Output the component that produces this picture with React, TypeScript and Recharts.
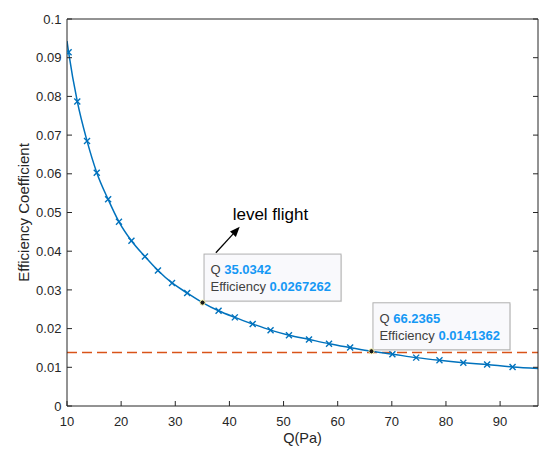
import React from 'react';
import { ComposedChart, Line, Scatter, XAxis, YAxis, ReferenceLine, ReferenceDot } from 'recharts';

// Marker points (x markers)
const markerQ = [10.3, 11.9, 13.7, 15.5, 17.6, 19.6, 21.9, 24.4, 26.8, 29.4, 32.2, 38.0, 41.0, 44.3, 47.6, 51.0, 54.7, 58.4, 62.3, 70.1, 74.5, 78.8, 83.2, 87.6, 92.3];
const markerE = [0.0914, 0.0787, 0.0685, 0.0603, 0.0534, 0.0476, 0.0427, 0.0386, 0.0350, 0.0318, 0.0292, 0.0246, 0.0229, 0.0212, 0.0196, 0.0183, 0.0172, 0.0161, 0.0151, 0.0134, 0.0125, 0.0118, 0.0112, 0.0107, 0.0101];

// Data tips
const tipQ = [35.0342, 66.2365];
const tipE = [0.0267262, 0.0141362];

// Curve end points
const startQ = 10;
const startE = 0.0943;
const endQ = 97;
const endE = 0.0097;

// Level flight threshold
const levelE = 0.0138;

const xTicks = [10, 20, 30, 40, 50, 60, 70, 80, 90];
const yTicks = [0, 0.01, 0.02, 0.03, 0.04, 0.05, 0.06, 0.07, 0.08, 0.09, 0.1];

const markers = markerQ.map((q, i) => ({ q, e: markerE[i] }));
const curve = [
  { q: startQ, e: startE },
  ...markers,
  ...tipQ.map((q, i) => ({ q, e: tipE[i] })),
  { q: endQ, e: endE },
].sort((a, b) => a.q - b.q);

const FONT = 'Liberation Sans, Arial, sans-serif';
const AXIS = '#262626';
const BLUE = '#0072BD';
const TIPBLUE = '#1598f5';

const XMark = (props: any) => {
  const { cx, cy } = props;
  if (cx == null || cy == null) return null;
  const s = 3;
  return (
    <g stroke={BLUE} strokeWidth={1.4}>
      <line x1={cx - s} y1={cy - s} x2={cx + s} y2={cy + s} />
      <line x1={cx - s} y1={cy + s} x2={cx + s} y2={cy - s} />
    </g>
  );
};

const makeTip = (q: number, e: number) => (props: any) => {
  const { cx, cy } = props;
  if (cx == null || cy == null) return null;
  const bx = cx + 1.5;
  const by = cy - 48.5;
  return (
    <g>
      <rect x={bx + 1} y={by + 1} width={137} height={47} fill="#d8d8d8" opacity={0.6} />
      <rect x={bx} y={by} width={137} height={47} fill="#f9f9fc" stroke="#b0b0b0" strokeWidth={1} />
      <text x={bx + 6.5} y={by + 20} fontFamily={FONT} fontSize={13} fill="#404040">
        Q <tspan fill={TIPBLUE} fontWeight="bold">{q.toFixed(4)}</tspan>
      </text>
      <text x={bx + 6.5} y={by + 37} fontFamily={FONT} fontSize={13} fill="#404040">
        Efficiency <tspan fill={TIPBLUE} fontWeight="bold">{String(e)}</tspan>
      </text>
      <circle cx={cx} cy={cy} r={2.6} fill="#1a1a1a" stroke="#fffbb0" strokeWidth={1} />
    </g>
  );
};

const Arrow = (props: any) => {
  const { x1, y1, x2, y2 } = props;
  if (x1 == null) return null;
  const ang = Math.atan2(y2 - y1, x2 - x1);
  const L = 10;
  const W = 4;
  const bx = x2 - L * Math.cos(ang);
  const by = y2 - L * Math.sin(ang);
  const px = -Math.sin(ang) * W;
  const py = Math.cos(ang) * W;
  return (
    <g>
      <line x1={x1} y1={y1} x2={bx} y2={by} stroke="#000" strokeWidth={1.3} />
      <polygon points={`${x2},${y2} ${bx + px},${by + py} ${bx - px},${by - py}`} fill="#000" />
    </g>
  );
};

const LevelText = (props: any) => {
  const { cx, cy } = props;
  if (cx == null) return null;
  return (
    <text x={cx} y={cy} fontFamily={FONT} fontSize={17} fill="#000">
      level flight
    </text>
  );
};

export default function App() {
  return (
    <div style={{ position: 'absolute', left: 0, top: 0, width: 550, height: 461, background: '#fff' }}>
      <ComposedChart
        width={550}
        height={461}
        margin={{ top: 18, right: 11, bottom: 0, left: 0 }}
        style={{ fontFamily: FONT }}
      >
        <XAxis
          xAxisId="b"
          dataKey="q"
          type="number"
          domain={[10, 97]}
          ticks={xTicks}
          allowDataOverflow
          height={55}
          tickSize={-5}
          tickMargin={15.5}
          stroke={AXIS}
          tick={{ fontSize: 13, fill: AXIS, fontFamily: FONT }}
          label={{
            content: (p: any) => {
              const vb = p.viewBox || {};
              return (
                <text x={vb.x + vb.width / 2} y={vb.y + 36.5} textAnchor="middle" fontFamily={FONT} fontSize={14.5} fill={AXIS}>
                  Q(Pa)
                </text>
              );
            },
          }}
        />
        <XAxis
          xAxisId="t"
          orientation="top"
          type="number"
          domain={[10, 97]}
          ticks={xTicks}
          allowDataOverflow
          height={1}
          tickSize={-5}
          stroke={AXIS}
          tickFormatter={() => ''}
        />
        <YAxis
          yAxisId="l"
          type="number"
          domain={[0, 0.1]}
          ticks={yTicks}
          allowDataOverflow
          width={67}
          tickSize={-5}
          tickMargin={10.6}
          stroke={AXIS}
          tick={{ fontSize: 13, fill: AXIS, fontFamily: FONT }}
          tickFormatter={(v: number) => String(v)}
          label={{
            content: (p: any) => {
              const vb = p.viewBox || {};
              const cx = vb.x + 23;
              const cy = vb.y + vb.height / 2;
              return (
                <text
                  x={cx}
                  y={cy}
                  transform={`rotate(-90 ${cx} ${cy})`}
                  textAnchor="middle"
                  dominantBaseline="central"
                  fontFamily={FONT}
                  fontSize={15}
                  fill={AXIS}
                >
                  Efficiency Coefficient
                </text>
              );
            },
          }}
        />
        <YAxis
          yAxisId="r"
          orientation="right"
          type="number"
          domain={[0, 0.1]}
          ticks={yTicks}
          allowDataOverflow
          width={1}
          tickSize={-5}
          stroke={AXIS}
          tickFormatter={() => ''}
        />
        <ReferenceLine
          xAxisId="b"
          yAxisId="l"
          y={levelE}
          stroke="#D95319"
          strokeWidth={1.5}
          strokeDasharray="10 5"
        />
        <Line
          xAxisId="b"
          yAxisId="l"
          data={curve}
          dataKey="e"
          type="monotone"
          stroke={BLUE}
          strokeWidth={1.5}
          dot={false}
          activeDot={false}
          isAnimationActive={false}
        />
        <Scatter
          xAxisId="b"
          yAxisId="l"
          data={markers}
          dataKey="e"
          shape={XMark}
          isAnimationActive={false}
        />
        <ReferenceLine
          xAxisId="b"
          yAxisId="l"
          segment={[{ x: 37.5, y: 0.0396 }, { x: 41.9, y: 0.0463 }]}
          shape={Arrow}
        />
        <ReferenceDot xAxisId="b" yAxisId="l" x={40.6} y={0.0481} r={0} shape={LevelText} />
        {tipQ.map((q, i) => (
          <ReferenceDot key={q} xAxisId="b" yAxisId="l" x={q} y={tipE[i]} r={3} shape={makeTip(q, tipE[i])} />
        ))}
      </ComposedChart>
    </div>
  );
}
